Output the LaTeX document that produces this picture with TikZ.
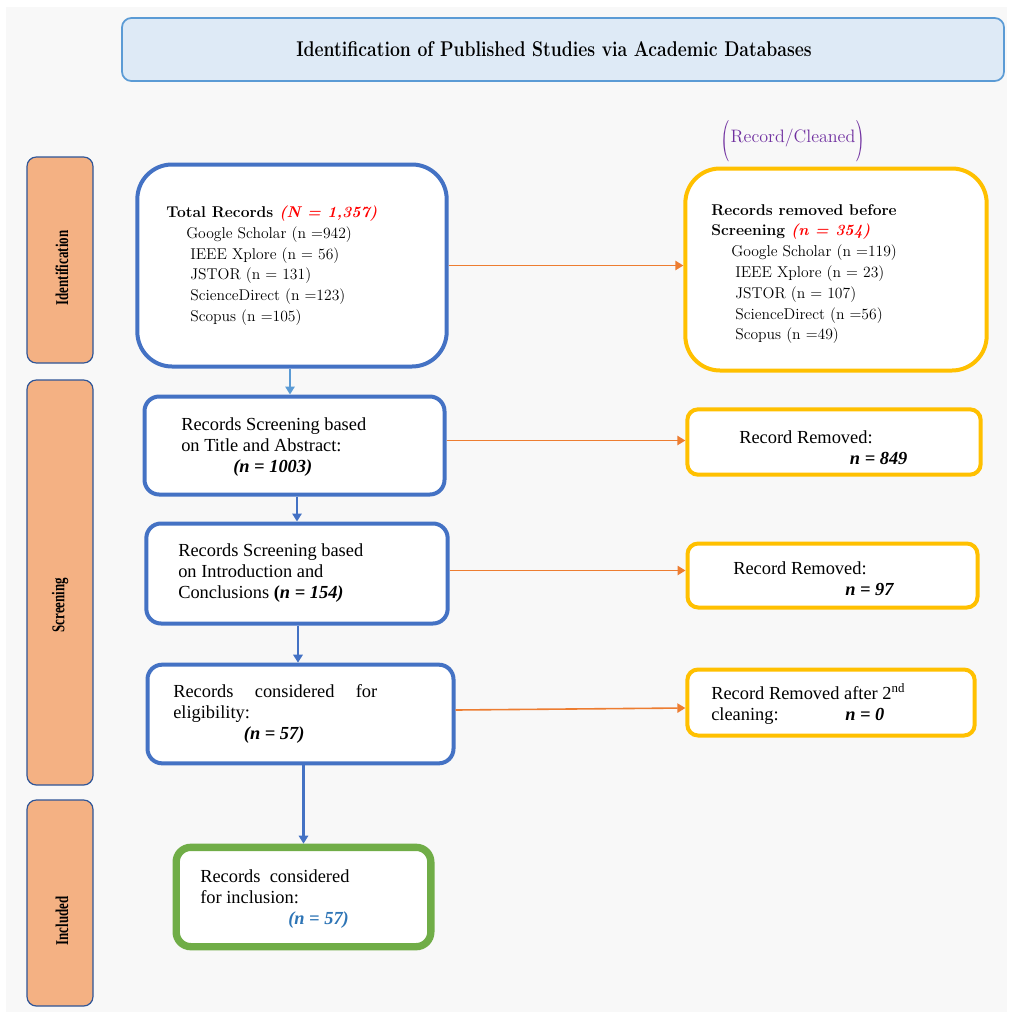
\documentclass[tikz,border=0pt]{standalone}
\usepackage{fontspec}
\usepackage{graphicx}
\newfontfamily\tnr{Liberation Serif}
\usetikzlibrary{arrows.meta,calc}
\definecolor{bggray}{HTML}{F8F8F8}
\definecolor{titlefill}{HTML}{DEEAF6}
\definecolor{titledraw}{HTML}{5B9BD5}
\definecolor{sidefill}{HTML}{F4B183}
\definecolor{sidedraw}{HTML}{2F5597}
\definecolor{bluebd}{HTML}{4472C4}
\definecolor{goldbd}{HTML}{FFC000}
\definecolor{greenbd}{HTML}{70AD47}
\definecolor{orangearr}{HTML}{ED7D31}
\definecolor{lightarr}{HTML}{5B9BD5}
\definecolor{purp}{HTML}{7030A0}
\definecolor{nblue}{HTML}{2E75B6}
\definecolor{redtxt}{HTML}{FF0000}
\tikzset{
  boxbase/.style={rectangle, fill=white, inner sep=0pt},
  bigblue/.style={boxbase, draw=bluebd, line width=3pt, rounded corners=26pt},
  biggold/.style={boxbase, draw=goldbd, line width=3pt, rounded corners=26pt},
  midblue/.style={boxbase, draw=bluebd, line width=3pt, rounded corners=11pt},
  smallgold/.style={boxbase, draw=goldbd, line width=3pt, rounded corners=8pt},
  greenbox/.style={boxbase, draw=greenbd, line width=5.5pt, rounded corners=11pt},
  sidebox/.style={rectangle, fill=sidefill, draw=sidedraw, line width=0.9pt, rounded corners=7pt, minimum width=49.5pt, inner sep=0pt},
  sidetxt/.style={rotate=90, inner sep=0pt, font=\tnr\fontsize{13.5}{15}\selectfont\bfseries},
  camtxt/.style={anchor=north west, inner sep=0pt, align=left, font=\fontsize{11.7}{15.5}\selectfont},
  tnrtxt/.style={anchor=north west, inner sep=0pt, align=left, font=\tnr\fontsize{13.8}{15.75}\selectfont},
  oarrow/.style={draw=orangearr, line width=1.2pt, -{Triangle[width=7pt,length=6pt]}, fill=orangearr},
  barrow/.style={draw=bluebd, line width=1.8pt, -{Triangle[width=7pt,length=6pt]}, fill=bluebd},
}
\begin{document}
\begin{tikzpicture}[x=0.75pt,y=-0.75pt]
\useasboundingbox (0,0) rectangle (1013,1014);
\fill[white] (0,0) rectangle (1013,1014);
\fill[bggray] (6,7) rectangle (1007,1012);

% title
\node[rectangle, fill=titlefill, draw=titledraw, line width=1.3pt, rounded corners=7pt,
      minimum width=661.5pt, minimum height=47.25pt] (title) at (563,49.5) {};
\node[inner sep=0pt, font=\fontsize{16}{19}\selectfont\bfseries] (titletxt) at (554,49)
  {\scalebox{0.825}[1]{Identification of Published Studies via Academic Databases}};

% side boxes
\node[sidebox, minimum height=154.5pt] (side1) at (60,260) {};
\node[sidebox, minimum height=303.75pt] (side2) at (60,582.5) {};
\node[sidebox, minimum height=154.5pt] (side3) at (60,903) {};
\node[sidetxt] (s1t) at (62,268) {\scalebox{0.72}[1]{Identification}};
\node[sidetxt] (s2t) at (60,605) {\scalebox{0.72}[1]{Screening}};
\node[sidetxt] (s3t) at (62,921) {\scalebox{0.72}[1]{Included}};

% record/cleaned
\node[inner sep=0pt, text=purp, font=\fontsize{13.5}{15}\selectfont] (rc) at (793,141)
  {\raisebox{-0.3\height}{\scalebox{1.3}[2.3]{(}}Record/Cleaned\raisebox{-0.3\height}{\scalebox{1.3}[2.3]{)}}};

% boxes
\node[bigblue, minimum width=232pt, minimum height=151.5pt] (tot) at (292,265.5) {};
\node[biggold, minimum width=226pt, minimum height=151.5pt] (rem) at (836,269.5) {};
\node[midblue, minimum width=225pt, minimum height=73.5pt] (b2) at (294.5,445.5) {};
\node[smallgold, minimum width=220pt, minimum height=49pt] (r1) at (834,442) {};
\node[midblue, minimum width=226pt, minimum height=75pt] (b3) at (297,573.5) {};
\node[smallgold, minimum width=217.5pt, minimum height=48pt] (r2) at (832.5,575.5) {};
\node[midblue, minimum width=229.5pt, minimum height=74pt] (b4) at (300.5,714) {};
\node[smallgold, minimum width=215.5pt, minimum height=49.5pt] (r3) at (831,702.5) {};
\node[greenbox, minimum width=191pt, minimum height=74.5pt] (inc) at (303.5,897) {};

% texts
\node[camtxt] (tottxt) at (166,206) {%
{\bfseries Total Records \textcolor{redtxt}{\itshape (N = 1,357)}}\\
\hspace*{15pt}Google Scholar (n =942)\\
\hspace*{18pt}IEEE Xplore (n = 56)\\
\hspace*{18pt}JSTOR (n = 131)\\
\hspace*{18pt}ScienceDirect (n =123)\\
\hspace*{18pt}Scopus (n =105)};

\node[camtxt, font=\fontsize{11.7}{15.6}\selectfont] (remtxt) at (711,204) {%
{\bfseries Records removed before}\\
{\bfseries Screening \textcolor{redtxt}{\itshape (n = 354)}}\\
\hspace*{15pt}Google Scholar (n =119)\\
\hspace*{18pt}IEEE Xplore (n = 23)\\
\hspace*{18pt}JSTOR (n = 107)\\
\hspace*{18pt}ScienceDirect (n =56)\\
\hspace*{18pt}Scopus (n =49)};

\node[tnrtxt] (b2txt) at (181,417) {%
Records Screening based\\
on Title and Abstract:\\
\hspace*{39pt}{\bfseries\itshape (n = 1003)}};

\node[tnrtxt] (r1txt) at (739,430) {%
Record Removed:\\
\hspace*{83pt}{\bfseries\itshape n = 849}};

\node[tnrtxt] (b3txt) at (178,543) {%
Records Screening based\\
on Introduction and\\
Conclusions {\bfseries(\itshape n = 154)}};

\node[tnrtxt] (r2txt) at (733,561) {%
Record Removed:\\
\hspace*{84pt}{\bfseries\itshape n = 97}};

\node[tnrtxt] (b4txt) at (173,684) {%
\makebox[153pt][s]{Records considered for}\\
eligibility:\\
\hspace*{53pt}{\bfseries\itshape (n = 57)}};

\node[tnrtxt] (r3txt) at (711,683) {%
Record Removed after 2\textsuperscript{nd}\\
\makebox[100.5pt][l]{cleaning:}{\bfseries\itshape n = 0}};

\node[tnrtxt] (inctxt) at (200,869) {%
Records\ \ considered\\
for inclusion:\\
\hspace*{66pt}\textcolor{nblue}{\bfseries\itshape (n = 57)}};

% connectors
\draw[oarrow] (tot.east) -- (tot.east -| rem.west);
\draw[oarrow] ($(b2.east)+(0,-5)$) -- ($(b2.east -| r1.west)+(0,-5)$);
\draw[oarrow] ($(b3.east)+(0,-3)$) -- ($(b3.east -| r2.west)+(0,-3)$);
\draw[oarrow] ($(b4.east)+(0,-4)$) -- ($(r3.west)+(0,5.5)$);
\draw[barrow, draw=lightarr, fill=lightarr, line width=1.5pt] ($(tot.south)+(-2,0)$) -- ($(b2.north -| tot.south)+(-2,0)$);
\draw[barrow] (b3.north |- b2.south) -- (b3.north);
\draw[barrow] ($(b3.south)+(1,0)$) -- ($(b4.north -| b3.south)+(1,0)$);
\draw[barrow] (inc.north |- b4.south) -- (inc.north);
\end{tikzpicture}
\end{document}
